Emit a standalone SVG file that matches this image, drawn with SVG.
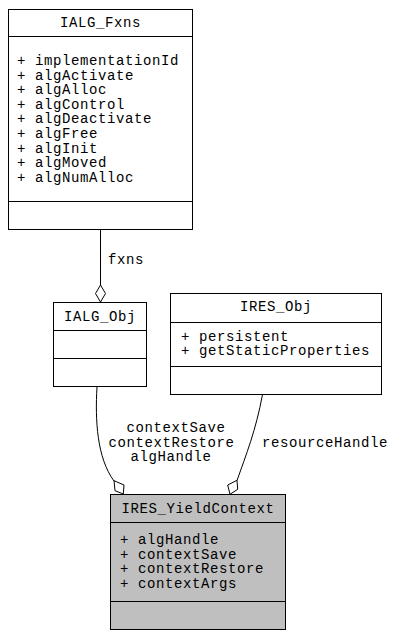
<svg xmlns="http://www.w3.org/2000/svg" width="418" height="636" viewBox="0 0 418 636">
<style>
.box{fill:#ffffff;stroke:#000000;stroke-width:1}
.gray{fill:#bfbfbf}
.sep{stroke:#000000;stroke-width:1;fill:none}
text{font-family:"Liberation Mono","DejaVu Sans Mono",monospace;font-size:14px;letter-spacing:0.6px;fill:#000000}
.c{text-anchor:middle}
.edge{fill:none;stroke:#000000;stroke-width:1}
.dia{fill:#ffffff;stroke:#000000;stroke-width:1}
</style>
<rect width="418" height="636" fill="#ffffff"/>
<g id="connectors">
<path class="edge" d="M100.5,229.5 V285"/>
<polygon class="dia" points="100.5,285 105.5,293.5 100.5,302 95.5,293.5"/>
<text x="108" y="264">fxns</text>
<path class="edge" d="M97,387 C95,420 97,458 114,481"/>
<polygon class="dia" points="114,480.7 124,485 123.3,494 115,490.7"/>
<text class="c" x="176" y="432">contextSave</text>
<text class="c" x="171.5" y="446.5">contextRestore</text>
<text class="c" x="171" y="461">algHandle</text>
<path class="edge" d="M262.5,394.5 C256,430 246,455 237,480.5"/>
<polygon class="dia" points="237,480.3 237.7,489.3 230,494.3 227.7,485"/>
<text class="c" x="325" y="446.5">resourceHandle</text>
</g>
<g id="IALG_Fxns">
<rect class="box" x="8.5" y="9.5" width="184" height="220"/>
<path class="sep" d="M8.5,36.5 H192.5 M8.5,201.5 H192.5"/>
<text class="c" x="100.5" y="27">IALG_Fxns</text>
<text x="17" y="65">+ implementationId</text>
<text x="17" y="79.6">+ algActivate</text>
<text x="17" y="94.2">+ algAlloc</text>
<text x="17" y="108.8">+ algControl</text>
<text x="17" y="123.4">+ algDeactivate</text>
<text x="17" y="138">+ algFree</text>
<text x="17" y="152.6">+ algInit</text>
<text x="17" y="167.2">+ algMoved</text>
<text x="17" y="181.8">+ algNumAlloc</text>
</g>
<g id="IALG_Obj">
<rect class="box" x="53.5" y="302.5" width="93" height="84"/>
<path class="sep" d="M53.5,330.5 H146.5 M53.5,358.5 H146.5"/>
<text class="c" x="100" y="321">IALG_Obj</text>
</g>
<g id="IRES_Obj">
<rect class="box" x="170.5" y="293.5" width="211" height="101"/>
<path class="sep" d="M170.5,322.5 H381.5 M170.5,366.5 H381.5"/>
<text class="c" x="276" y="311">IRES_Obj</text>
<text x="181" y="340.5">+ persistent</text>
<text x="181" y="355">+ getStaticProperties</text>
</g>
<g id="IRES_YieldContext">
<rect class="box gray" x="110.5" y="494.5" width="175" height="135"/>
<path class="sep" d="M110.5,522.5 H285.5 M110.5,601.5 H285.5"/>
<text class="c" x="198" y="512.5">IRES_YieldContext</text>
<text x="120" y="544">+ algHandle</text>
<text x="120" y="558.7">+ contextSave</text>
<text x="120" y="573.3">+ contextRestore</text>
<text x="120" y="588">+ contextArgs</text>
</g>
</svg>
